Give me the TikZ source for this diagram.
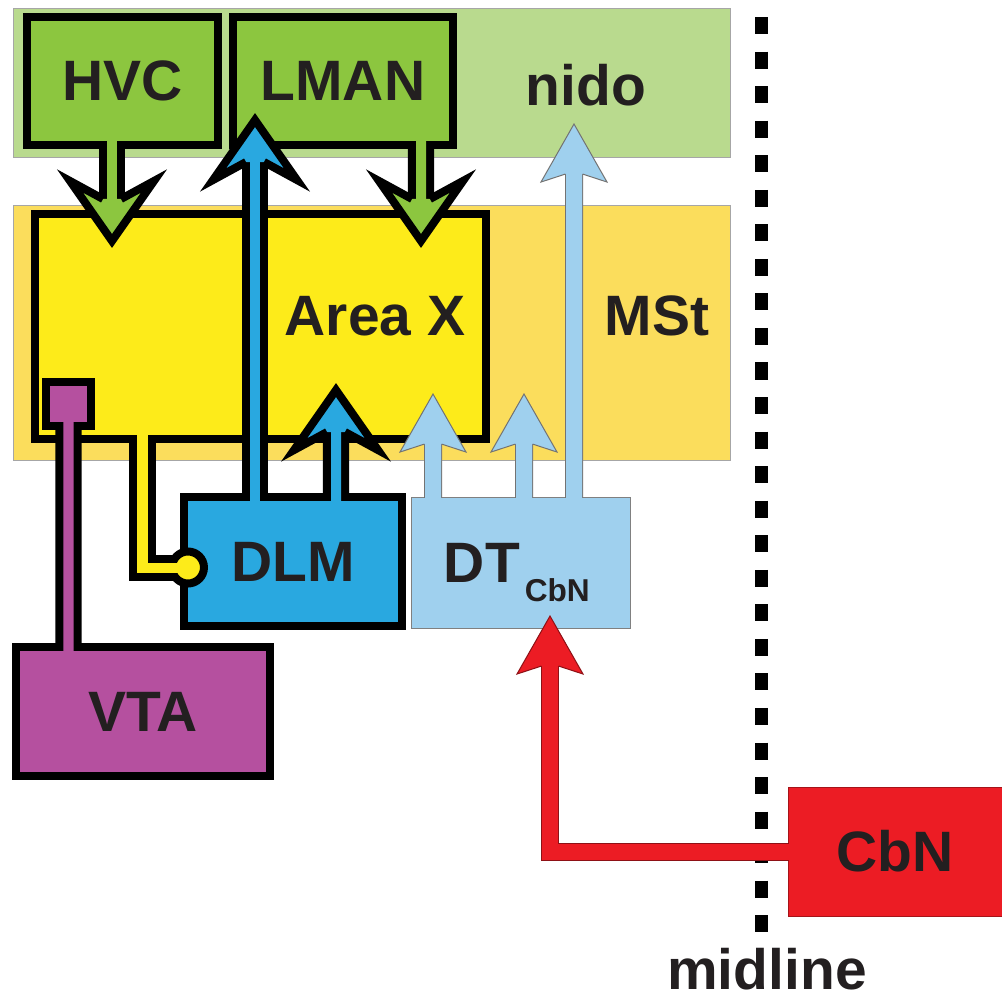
\documentclass[tikz,border=0pt]{standalone}
\usepackage{fontspec}
\setmainfont{Liberation Sans}
\usetikzlibrary{calc,positioning}
\definecolor{ink}{HTML}{231F20}
\definecolor{nidogreen}{HTML}{B9DA8E}
\definecolor{songgreen}{HTML}{8CC63F}
\definecolor{mstgold}{HTML}{FBDD5C}
\definecolor{areayellow}{HTML}{FDEB1A}
\definecolor{dlmblue}{HTML}{29A8E0}
\definecolor{dtblue}{HTML}{9FD0EE}
\definecolor{vtapurple}{HTML}{B5509F}
\definecolor{cbnred}{HTML}{EC1C24}

\tikzset{
  lbl/.style={font=\bfseries\fontsize{40.5}{48}\selectfont,text=ink},
  region/.style={draw=black!35,line width=0.6pt,inner sep=0pt,outer sep=0pt},
  nucleus/.style={draw=black,line width=0.2cm,inner sep=0pt,outer sep=0pt,lbl},
  relay/.style={line width=0.6pt,inner sep=0pt,outer sep=0pt,lbl},
  % stem / head sizes (head sizes in px)
  tractfat/.code={\def\tsw{0.25cm}\def\tow{0.65cm}\def\tew{0.2cm}%
    \def\tjw{9}\def\thw{42}\def\thb{60}\def\thj{42}},
  tractflat/.code={\def\tsw{0.4cm}\def\tow{0.45cm}\def\tew{0.025cm}%
    \def\tjw{8.5}\def\thw{33}\def\thb{58}\def\thj{50}},
}

% #1 fill, #2 edge colour, #3 kind, #4 start + route, #5 tip, #6 1 = down, -1 = up
\newcommand{\tract}[6]{%
  \begingroup
  \tikzset{#3}%
  \coordinate (tracttip) at #5;
  \coordinate (tractj) at ($(tracttip)+(0,{-1*(#6)*\thj})$);
  \coordinate (tractb) at ($(tracttip)+(0,{-1*(#6)*\thb})$);
  \coordinate (tractx) at ($(tracttip)+(0,{-1*(#6)*(\thj-3)})$);
  \draw[#2,line width=\tow] #4 (tractx);
  \fill[#1] ($(tractj)+(-\tjw,0)$) -- ($(tractb)+(-\thw,0)$) -- (tracttip)
    -- ($(tractb)+(\thw,0)$) -- ($(tractj)+(\tjw,0)$) -- cycle;
  \draw[#2,line width=\tew,line join=miter] ($(tractj)+(-\tjw,0)$)
    -- ($(tractb)+(-\thw,0)$) -- (tracttip) -- ($(tractb)+(\thw,0)$)
    -- ($(tractj)+(\tjw,0)$);
  \draw[#1,line width=\tsw] #4 (tractx);
  \endgroup}

\begin{document}
\begin{tikzpicture}[x=0.025cm,y=-0.025cm]
\useasboundingbox (0,0) rectangle (1002,1001);

% -- regions ------------------------------------------------------
\node[region,fill=nidogreen,minimum width=17.9cm,minimum height=3.725cm] (nido) at (372,82.5) {};
\node[region,fill=mstgold,minimum width=17.9cm,minimum height=6.375cm] (mst) at (372,332.5) {};
\node[lbl] (nidolbl) at (586,85) {nido};
\node[lbl] (mstlbl) at (657,316) {MSt};

% -- midline ------------------------------------------------------
\draw[black,line width=0.325cm,dash pattern=on 0.425cm off 0.4385cm] (761.5,17) -- (761.5,932);
\node[lbl] (midlbl) at (767,969) {midline};

% -- nuclei -------------------------------------------------------
\node[nucleus,fill=songgreen,minimum width=4.775cm,minimum height=3.2cm] (hvc) at (122.5,81) {HVC};
\node[nucleus,fill=songgreen,minimum width=5.5cm,minimum height=3.2cm] (lman) at (343,81) {LMAN};
\node[nucleus,fill=areayellow,minimum width=11.275cm,minimum height=5.625cm] (areax) at (260.5,326.5) {};
\node[lbl] (areaxlbl) at (375,316) {Area X};
\node[nucleus,fill=vtapurple,minimum width=1.125cm,minimum height=1.1cm] (vtaterm) at (68.5,404) {};
\node[nucleus,fill=dlmblue,minimum width=5.45cm,minimum height=3.225cm] (dlm) at (293,561.5) {DLM};
\node[relay,draw=black!50,fill=dtblue,minimum width=5.475cm,minimum height=3.275cm] (dt) at (520.5,562.5) {};
\node[lbl,anchor=base west] (dtlbl) at (439,582)
 {DT\kern3.5pt\raisebox{-14.2pt}{\fontsize{22.5}{26}\selectfont CbN}};
\node[nucleus,fill=vtapurple,minimum width=6.35cm,minimum height=3.225cm] (vta) at (143,711.5) {VTA};
\node[relay,draw=cbnred!70!black,fill=cbnred,minimum width=5.35cm,minimum height=3.225cm] (cbn) at (895,851.5) {CbN};

% -- Area X -> DLM (round ending) --------------------------------
\coordinate (dlmdot) at ($(dlm.west)+(4,6)$);
\draw[black,line width=0.65cm] ($(areax.south)+(-118,-4)$) |- (dlmdot);
\filldraw[fill=areayellow,draw=black,line width=0.2cm] (dlmdot) circle[radius=0.4cm];
\draw[areayellow,line width=0.25cm] ($(areax.south)+(-118,-4)$) |- (dlmdot);

% -- VTA -> Area X -------------------------------------------------
\draw[black,line width=0.65cm] ($(vtaterm.south)+(0,-4)$) -- ($(vta.north)+(-74.5,4)$);
\draw[vtapurple,line width=0.25cm] ($(vtaterm.south)+(0,-4)$) -- ($(vta.north)+(-74.5,4)$);

% -- song system tracts -------------------------------------------
\tract{songgreen}{black}{tractfat}{($(hvc.south)+(-10.5,-4)$) --}{($(areax.north)+(-148.5,27)$)}{1}
\tract{songgreen}{black}{tractfat}{($(lman.south)+(78,-4)$) --}{($(areax.north)+(160.5,27)$)}{1}
\tract{dlmblue}{black}{tractfat}{($(dlm.north)+(-38,4)$) --}{($(lman.south)+(-88,-25)$)}{-1}
\tract{dlmblue}{black}{tractfat}{($(dlm.north)+(43,4)$) --}{($(areax.south)+(75.5,-49)$)}{-1}

% -- cerebellar tracts --------------------------------------------
\tract{dtblue}{black!55}{tractflat}{($(dt.north)+(-87.5,1)$) --}{($(areax.south)+(172.5,-45)$)}{-1}
\tract{dtblue}{black!55}{tractflat}{($(dt.north)+(3.5,1)$) --}{($(mst.south)+(152,-66)$)}{-1}
\tract{dtblue}{black!55}{tractflat}{($(dt.north)+(53.5,1)$) --}{($(nido.south)+(202,-33)$)}{-1}
\tract{cbnred}{cbnred!60!black}{tractflat}{($(cbn.west)+(1,0)$) -|}{($(dt.south)+(29.5,-12)$)}{-1}
\end{tikzpicture}
\end{document}
